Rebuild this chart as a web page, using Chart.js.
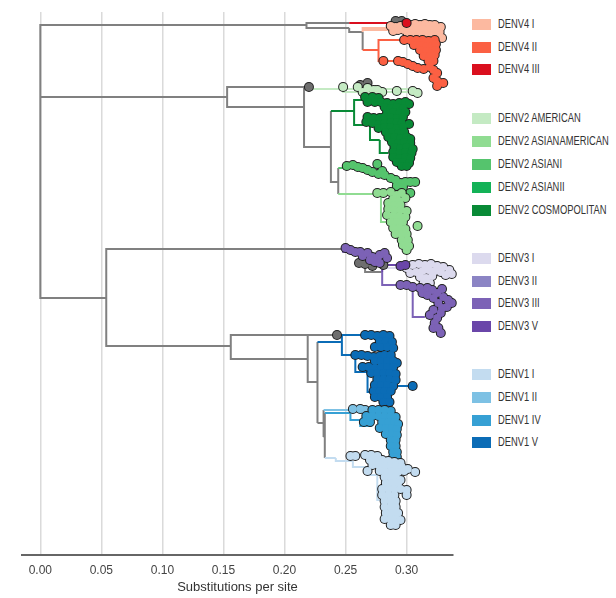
<!DOCTYPE html>
<html>
<head>
<meta charset="utf-8">
<script src="https://cdn.jsdelivr.net/npm/chart.js@4.4.1/dist/chart.umd.min.js"></script>
<style>
  body { margin: 0; background: #fff; }
  #wrap { position: relative; width: 616px; height: 598px; }
  #plot { position: absolute; left: 0; top: 0; width: 460px; height: 598px; }
  .sw { position: absolute; left: 472px; width: 19px; height: 11px; }
  .lb { position: absolute; left: 498px; font: 12px 'Liberation Sans', sans-serif; color: #333; line-height: 11px;
        white-space: nowrap; transform: scaleX(0.78); transform-origin: 0 50%; }
</style>
</head>
<body>
<div id="wrap">
  <div id="plot"><canvas id="tree"></canvas></div>
  <div id="legend"></div>
</div>
<script>

// x axis ticks (substitutions per site)
const xTickValues = [0, 0.05, 0.10, 0.15, 0.20, 0.25, 0.30];

// legend groups, in drawing order
const denv4Names = ['DENV4 I', 'DENV4 II', 'DENV4 III'];
const denv2Names = ['DENV2 AMERICAN', 'DENV2 ASIANAMERICAN', 'DENV2 ASIANI', 'DENV2 ASIANII', 'DENV2 COSMOPOLITAN'];
const denv3Names = ['DENV3 I', 'DENV3 II', 'DENV3 III', 'DENV3 V'];
const denv1Names = ['DENV1 I', 'DENV1 II', 'DENV1 IV', 'DENV1 V'];

const colors = {
    'DENV4 I': '#fcb9a0', 'DENV4 II': '#fb6043', 'DENV4 III': '#da0f1e',
    'DENV2 AMERICAN': '#c4eac3', 'DENV2 ASIANAMERICAN': '#90dc92', 'DENV2 ASIANI': '#55c46d',
    'DENV2 ASIANII': '#13b257', 'DENV2 COSMOPOLITAN': '#088a36',
    'DENV3 I': '#dcdaee', 'DENV3 II': '#8b84c4', 'DENV3 III': '#7c62b6', 'DENV3 V': '#6a46a9',
    'DENV1 I': '#c3dcf0', 'DENV1 II': '#7dc1e4', 'DENV1 IV': '#36a0d4', 'DENV1 V': '#0b6cb6',
    grey: '#808080'
};

// tree branches: [parentX, parentY, childX, childY] (y = tip row)
const greyEdges = [
    [0, 97, 0.218, 25], [0.218, 25, 0.253, 23], [0.218, 25, 0.253, 28], [0.253, 28, 0.264, 32], [0.264, 32, 0.264, 50],
    [0, 97, 0.153, 97], [0.153, 97, 0.220, 87], [0.153, 97, 0.216, 107], [0.216, 107, 0.216, 88],
    [0.216, 107, 0.238, 147], [0.238, 147, 0.238, 111], [0.238, 147, 0.244, 182], [0.244, 168, 0.244, 194],
    [0, 97, 0.054, 298], [0.054, 298, 0.248, 249], [0.054, 298, 0.156, 346],
    [0.266, 263, 0.280, 272],
    [0.156, 346, 0.243, 335], [0.156, 346, 0.219, 359], [0.219, 359, 0.219, 335], [0.219, 359, 0.227, 382],
    [0.227, 342, 0.227, 423], [0.227, 423, 0.232, 423], [0.232, 410, 0.232, 437], [0.232, 437, 0.233, 437],
    [0.233, 413, 0.233, 458]
];
const denv4IEdges = [[0.264, 32, 0.290, 28], [0.264, 32, 0.293, 30]];
const denv4IIEdges = [[0.264, 50, 0.277, 50], [0.277, 50, 0.298, 40], [0.277, 50, 0.281, 61], [0.281, 61, 0.293, 61]];
const denv4IIIEdges = [[0.253, 23, 0.300, 23]];
const americanEdges = [[0.220, 87, 0.311, 89], [0.248, 87, 0.309, 92]];
const asianAmericanEdges = [[0.244, 194, 0.276, 194], [0.279, 194, 0.283, 222]];
const asianIEdges = [[0.244, 168, 0.254, 168]];
const cosmoEdges = [[0.238, 111, 0.257, 111], [0.257, 111, 0.266, 100], [0.257, 111, 0.270, 125], [0.270, 125, 0.278, 140], [0.278, 140, 0.285, 153]];
const denv3IEdges = [[0.280, 272, 0.300, 268]];
const denv3IIIEdges = [[0.248, 249, 0.262, 252], [0.280, 272, 0.295, 285], [0.305, 290, 0.315, 317]];
const denv3VEdges = [[0.280, 272, 0.295, 265]];
const denv1IEdges = [[0.233, 458, 0.242, 458], [0.242, 458, 0.256, 461], [0.256, 461, 0.268, 467], [0.268, 467, 0.276, 475], [0.276, 475, 0.278, 500]];
const denv1IIEdges = [[0.232, 410, 0.256, 410]];
const denv1IVEdges = [[0.233, 413, 0.254, 413], [0.254, 413, 0.262, 420], [0.262, 420, 0.272, 426]];
const denv1VEdges = [[0.227, 342, 0.247, 342], [0.247, 342, 0.268, 335], [0.247, 342, 0.258, 355], [0.258, 355, 0.268, 372], [0.268, 372, 0.276, 392], [0.287, 386, 0.305, 386]];

// tips: [x, row]
const greyTips = [[0.291, 21], [0.296, 21], [0.220, 87], [0.262, 85], [0.268, 83],
    [0.261, 263], [0.266, 264], [0.272, 266], [0.281, 265], [0.243, 335]];
const denv4ITips = [
    [0.287, 26], [0.291, 27], [0.295, 26], [0.299, 24], [0.303, 25], [0.307, 24], [0.311, 25], [0.315, 24], [0.319, 25], [0.323, 25], [0.328, 27],
    [0.289, 31], [0.293, 30], [0.298, 30], [0.303, 30], [0.308, 29], [0.313, 29], [0.318, 29], [0.323, 30], [0.327, 32],
    [0.301, 35], [0.306, 35], [0.311, 34], [0.316, 34], [0.321, 35], [0.325, 37], [0.329, 38]
];
const denv4IITips = [
    [0.298, 40], [0.303, 40], [0.308, 40], [0.313, 40], [0.318, 41], [0.323, 40],
    [0.306, 45], [0.311, 45], [0.316, 46], [0.321, 46], [0.324, 44],
    [0.311, 50], [0.316, 51], [0.321, 51], [0.324, 50],
    [0.314, 56], [0.319, 56], [0.323, 55], [0.318, 61], [0.322, 61],
    [0.281, 61], [0.293, 61], [0.297, 62], [0.301, 64], [0.305, 66], [0.309, 68], [0.314, 69], [0.319, 67],
    [0.322, 70], [0.325, 73], [0.322, 78], [0.325, 81], [0.325, 86], [0.330, 83]
];
const denv4IIITips = [[0.300, 23]];
const americanTips = [[0.248, 87], [0.260, 87], [0.264, 92], [0.268, 95], [0.270, 98], [0.268, 88], [0.273, 90],
    [0.276, 90], [0.280, 92], [0.292, 91], [0.305, 91], [0.309, 93]];
const cosmoTips = [
    [0.266, 97], [0.272, 97], [0.277, 98],
    [0.268, 102], [0.274, 102], [0.279, 102], [0.284, 103], [0.289, 104], [0.294, 103], [0.299, 102], [0.302, 104],
    [0.282, 107], [0.287, 108], [0.292, 107], [0.297, 108],
    [0.284, 112], [0.289, 112], [0.294, 113], [0.299, 112],
    [0.268, 117], [0.273, 118], [0.278, 118], [0.282, 117], [0.287, 117], [0.292, 118], [0.297, 117],
    [0.267, 122], [0.272, 123], [0.277, 124], [0.282, 123], [0.287, 122], [0.292, 122], [0.296, 123], [0.302, 124],
    [0.277, 128], [0.282, 127], [0.287, 127], [0.292, 128], [0.297, 127],
    [0.283, 132], [0.288, 132], [0.293, 133], [0.298, 132],
    [0.285, 137], [0.290, 137], [0.295, 138], [0.300, 137], [0.303, 139],
    [0.288, 142], [0.293, 143], [0.298, 142], [0.303, 143],
    [0.290, 147], [0.295, 148], [0.300, 147], [0.305, 149],
    [0.289, 152], [0.294, 153], [0.299, 152], [0.304, 153],
    [0.289, 157], [0.294, 158], [0.299, 157], [0.303, 158],
    [0.292, 162], [0.297, 162], [0.302, 163], [0.296, 166], [0.300, 166]
];
const asianITips = [
    [0.251, 166], [0.256, 165], [0.260, 167], [0.264, 168], [0.268, 170], [0.276, 164], [0.272, 172], [0.277, 174],
    [0.280, 171], [0.282, 175], [0.287, 178], [0.291, 180], [0.295, 183], [0.299, 182], [0.303, 182], [0.307, 182],
    [0.292, 186], [0.297, 187], [0.303, 193]
];
const asianAmericanTips = [
    [0.276, 193], [0.281, 193], [0.287, 192], [0.292, 195], [0.296, 193], [0.299, 198],
    [0.289, 199], [0.294, 201], [0.285, 203], [0.290, 205], [0.295, 205],
    [0.285, 209], [0.290, 210], [0.295, 210], [0.300, 211],
    [0.284, 215], [0.289, 216], [0.294, 216], [0.299, 217],
    [0.287, 222], [0.292, 222], [0.297, 222], [0.289, 228], [0.294, 228], [0.299, 229],
    [0.291, 234], [0.296, 234], [0.300, 234], [0.296, 240], [0.301, 240], [0.297, 245], [0.302, 246], [0.300, 250],
    [0.309, 226]
];
const denv3UpperTips = [[0.250, 248], [0.254, 250], [0.258, 252], [0.262, 252], [0.264, 256], [0.268, 253], [0.272, 257],
    [0.276, 258], [0.278, 255], [0.282, 253], [0.284, 258], [0.274, 262], [0.278, 263], [0.270, 260]];
const denv3ITips = [
    [0.300, 268], [0.305, 265], [0.310, 264], [0.315, 265], [0.320, 264], [0.325, 266], [0.330, 267], [0.335, 270], [0.337, 274],
    [0.303, 273], [0.308, 272], [0.313, 271], [0.318, 270], [0.323, 271], [0.328, 272], [0.332, 275],
    [0.311, 277], [0.316, 278], [0.321, 276], [0.314, 283], [0.319, 283]
];
const denv3IIITips = [
    [0.295, 285], [0.300, 285], [0.305, 287], [0.311, 288], [0.317, 288], [0.321, 290], [0.329, 289],
    [0.313, 293], [0.317, 295], [0.325, 293], [0.330, 297], [0.334, 300], [0.337, 303], [0.322, 298], [0.326, 303],
    [0.333, 307], [0.329, 308], [0.322, 310], [0.328, 313], [0.319, 315], [0.325, 318], [0.323, 323], [0.322, 328],
    [0.326, 328], [0.328, 333]
];
const denv3VTips = [[0.295, 266], [0.299, 265]];
const denv1VTips = [
    [0.266, 335], [0.271, 335], [0.276, 336], [0.281, 335], [0.286, 336],
    [0.278, 341], [0.283, 341], [0.288, 342], [0.274, 347], [0.279, 347], [0.284, 347], [0.289, 348],
    [0.258, 355], [0.263, 355], [0.268, 356], [0.273, 357], [0.278, 356], [0.282, 355], [0.287, 355],
    [0.274, 361], [0.279, 361], [0.284, 361], [0.289, 361], [0.292, 363],
    [0.264, 367], [0.269, 367], [0.274, 368], [0.279, 367], [0.284, 367], [0.289, 367],
    [0.271, 373], [0.276, 373], [0.281, 373], [0.286, 373], [0.291, 374],
    [0.276, 379], [0.281, 379], [0.286, 379], [0.291, 380],
    [0.274, 385], [0.279, 385], [0.284, 385], [0.289, 386],
    [0.273, 391], [0.278, 391], [0.282, 391], [0.287, 391],
    [0.274, 397], [0.279, 397], [0.284, 397], [0.281, 402], [0.286, 402],
    [0.305, 386]
];
const denv1IITips = [[0.256, 409], [0.262, 409], [0.266, 410]];
const denv1IVTips = [
    [0.272, 410], [0.277, 410], [0.282, 410], [0.287, 411],
    [0.267, 416], [0.272, 416], [0.277, 416], [0.282, 416], [0.287, 416], [0.291, 417],
    [0.265, 422], [0.270, 422], [0.280, 422], [0.285, 422], [0.290, 422], [0.293, 424],
    [0.278, 428], [0.283, 428], [0.288, 428], [0.292, 429],
    [0.283, 434], [0.288, 434], [0.292, 435], [0.287, 440], [0.291, 440],
    [0.287, 446], [0.291, 446], [0.289, 452], [0.292, 452], [0.289, 457], [0.292, 457]
];
const denv1ITips = [
    [0.254, 456], [0.258, 456],
    [0.266, 455], [0.271, 455], [0.276, 456],
    [0.270, 460], [0.275, 460], [0.280, 460], [0.285, 461], [0.290, 462], [0.295, 463],
    [0.272, 465], [0.277, 465], [0.282, 466], [0.287, 466], [0.291, 466], [0.296, 467], [0.301, 469],
    [0.268, 471], [0.278, 471], [0.283, 472], [0.288, 471], [0.293, 472], [0.298, 471], [0.307, 472],
    [0.282, 477], [0.287, 477], [0.291, 477], [0.295, 480],
    [0.283, 483], [0.288, 483], [0.293, 483],
    [0.280, 489], [0.285, 489], [0.290, 489], [0.295, 489], [0.300, 490],
    [0.280, 495], [0.285, 495], [0.290, 495], [0.300, 495],
    [0.282, 501], [0.287, 501], [0.291, 501],
    [0.282, 507], [0.287, 507], [0.291, 507],
    [0.283, 513], [0.288, 513], [0.293, 513],
    [0.282, 519], [0.287, 519], [0.291, 519], [0.295, 520],
    [0.287, 525], [0.291, 525]
];

// clade drawing order: [colour key, edges, tips]
const cladeLayers = [
    ['DENV4 I', denv4IEdges, denv4ITips],
    ['DENV4 II', denv4IIEdges, denv4IITips],
    ['DENV4 III', denv4IIIEdges, denv4IIITips],
    ['DENV2 AMERICAN', americanEdges, americanTips],
    ['DENV2 COSMOPOLITAN', cosmoEdges, cosmoTips],
    ['DENV2 ASIANI', asianIEdges, asianITips],
    ['DENV2 ASIANAMERICAN', asianAmericanEdges, asianAmericanTips],
    ['DENV3 III', denv3IIIEdges, denv3UpperTips],
    ['DENV3 I', denv3IEdges, denv3ITips],
    ['DENV3 III', [], denv3IIITips],
    ['DENV3 V', denv3VEdges, denv3VTips],
    ['DENV1 V', denv1VEdges, denv1VTips],
    ['DENV1 II', denv1IIEdges, denv1IITips],
    ['DENV1 IV', denv1IVEdges, denv1IVTips],
    ['DENV1 I', denv1IEdges, denv1ITips]
];

function elbowPath(edges) {
    let pts = [];
    edges.forEach(e => {
        pts.push({ x: e[0], y: e[1] }, { x: e[0], y: e[3] }, { x: e[2], y: e[3] }, { x: NaN, y: NaN });
    });
    return pts;
}

function toPoints(tips) {
    return tips.map(t => ({ x: t[0], y: t[1] }));
}

function lineSet(edges, color) {
    return {
        data: elbowPath(edges), showLine: true, spanGaps: false, borderColor: color, borderWidth: 2,
        pointRadius: 0, clip: false
    };
}

function tipSets(tips, color) {
    return [
        { data: toPoints(tips), pointRadius: 5, pointBackgroundColor: '#1e1e1e', pointBorderWidth: 0, clip: false },
        { data: toPoints(tips), pointRadius: 4, pointBackgroundColor: color, pointBorderWidth: 0, clip: false }
    ];
}

let datasets = [];
datasets.push(lineSet(greyEdges, colors.grey));
cladeLayers.forEach(c => datasets.push(lineSet(c[1], colors[c[0]])));
datasets.push(...tipSets(greyTips, '#6e6e6e'));
cladeLayers.forEach(c => datasets.push(...tipSets(c[2], colors[c[0]])));
datasets.forEach((d, i) => { d.order = -i; });

const myChart = new Chart(document.getElementById('tree'), {
    type: 'scatter',
    data: { datasets: datasets },
    options: {
        responsive: true,
        maintainAspectRatio: false,
        animation: false,
        events: [],
        layout: { padding: { left: 22, right: 7, top: 12, bottom: 0 } },
        plugins: { legend: { display: false }, tooltip: { enabled: false } },
        scales: {
            x: {
                type: 'linear',
                min: -0.015,
                max: 0.338,
                afterBuildTicks: (scale) => { scale.ticks = xTickValues.map(v => ({ value: v })); },
                afterFit: (scale) => { scale.height = 43; },
                grid: { color: '#dadada', lineWidth: 1.5, drawTicks: false },
                border: { color: '#666', width: 2 },
                ticks: {
                    padding: 8,
                    color: '#444',
                    font: { family: 'Liberation Sans', size: 12 },
                    callback: (v) => Number(v).toFixed(2)
                },
                title: {
                    display: true,
                    text: 'Substitutions per site',
                    color: '#333',
                    font: { family: 'Liberation Sans', size: 13 },
                    padding: { top: 2, bottom: 3 }
                }
            },
            y: { type: 'linear', min: 12, max: 555, reverse: true, display: false }
        }
    }
});

// legend
const legendTops = [
    [denv4Names, [19, 41.5, 64]],
    [denv2Names, [113, 136, 159, 182, 205]],
    [denv3Names, [253, 276, 298, 321]],
    [denv1Names, [369, 392, 415, 437]]
];
const legendBox = document.getElementById('legend');
legendTops.forEach(group => {
    group[0].forEach((name, i) => {
        let sw = document.createElement('div');
        sw.className = 'sw';
        sw.style.top = group[1][i] + 'px';
        sw.style.background = colors[name];
        legendBox.appendChild(sw);
        let lb = document.createElement('div');
        lb.className = 'lb';
        lb.style.top = group[1][i] + 'px';
        lb.textContent = name;
        legendBox.appendChild(lb);
    });
});
</script>
</body>
</html>
